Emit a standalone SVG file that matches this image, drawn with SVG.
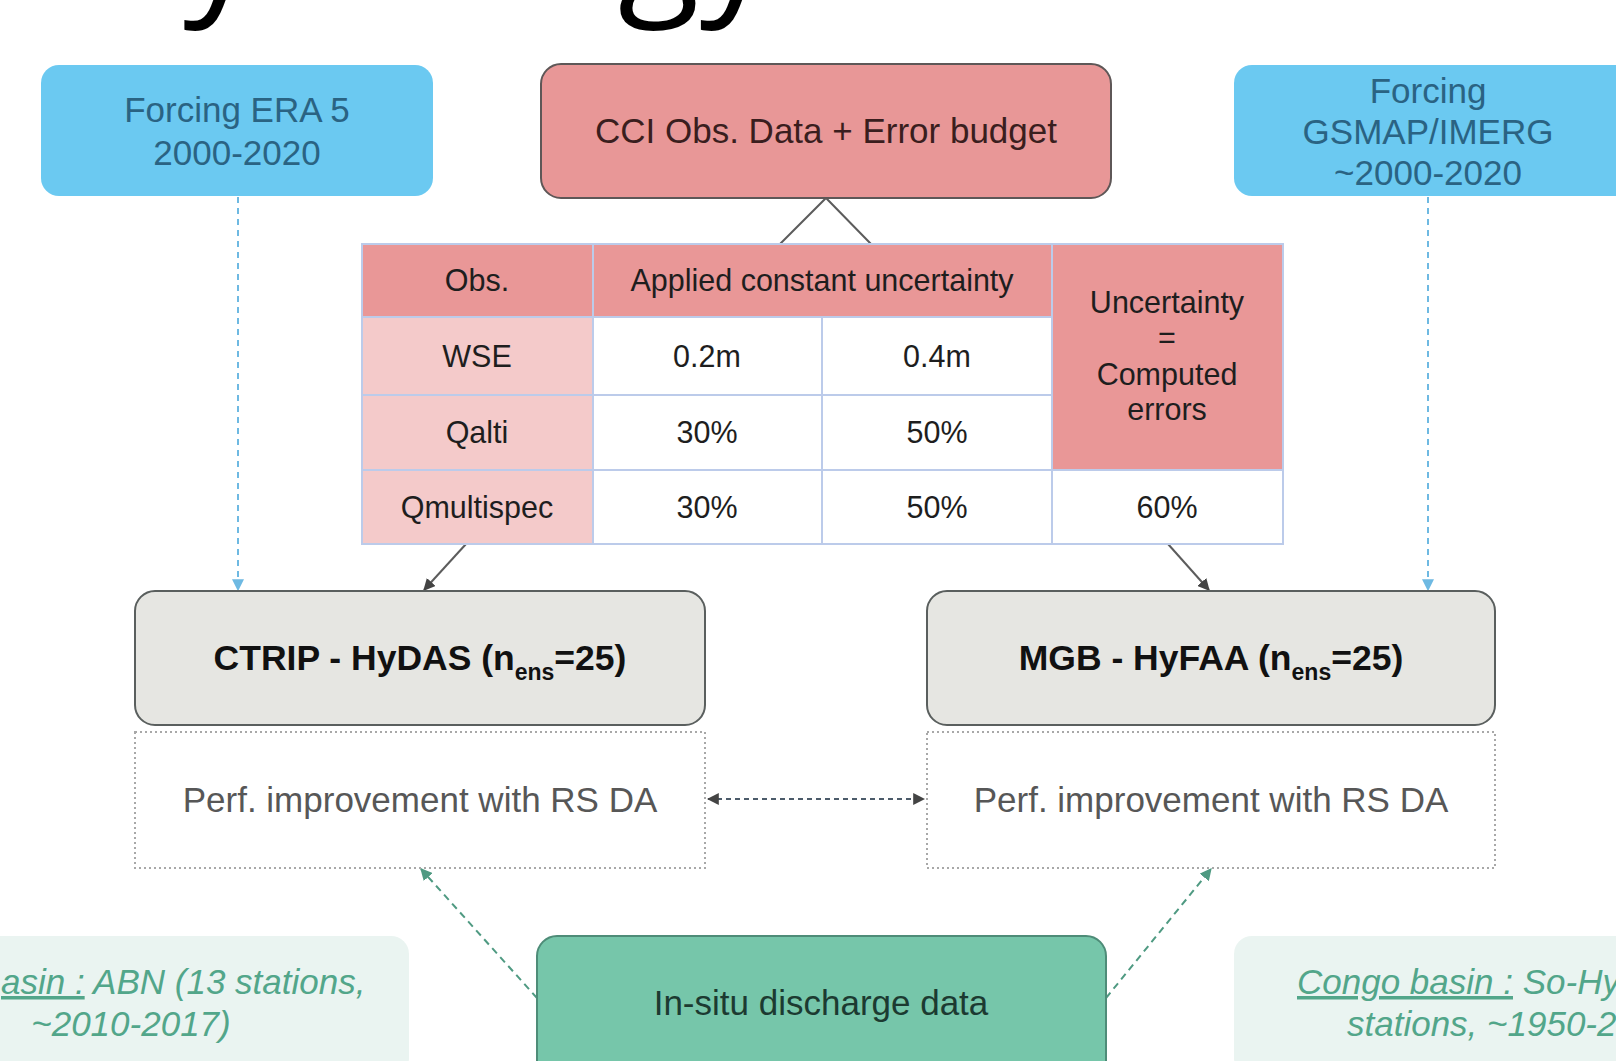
<svg xmlns="http://www.w3.org/2000/svg" width="1616" height="1061" viewBox="0 0 1616 1061">
  <defs>
    <style>
      text { font-family: "Liberation Sans", Arial, sans-serif; }
      .title { font-family: "Open Sans", "Noto Sans", sans-serif; font-size: 150px; fill: #000; }
      .forcing rect { fill: #6BC9F1; }
      .forcing text { font-size: 35px; fill: #2A6383; text-anchor: middle; }
      .cci rect { fill: #E89797; stroke: #5E5757; stroke-width: 2; }
      .cci text { font-size: 35px; fill: #3A1E1E; text-anchor: middle; }
      .cell-head { fill: #E99797; }
      .cell-obs { fill: #F4CACA; }
      .cell { fill: #FFFFFF; }
      .grid { stroke: #BCCBEA; stroke-width: 2; fill: none; }
      .tbl { font-size: 30.5px; fill: #1E1E1E; text-anchor: middle; }
      .model rect { fill: #E6E6E2; stroke: #5A5F5E; stroke-width: 2; }
      .model text { font-size: 35.5px; font-weight: bold; fill: #111; text-anchor: middle; }
      .perf rect { fill: #FFFFFF; stroke: #A8A8A8; stroke-width: 2; stroke-dasharray: 2 3; }
      .perf text { font-size: 35px; fill: #575757; text-anchor: middle; }
      .insitu rect { fill: #76C6AA; stroke: #4E8C78; stroke-width: 2; }
      .insitu text { font-size: 35px; fill: #1C3A31; text-anchor: middle; }
      .basin rect { fill: #EAF4F1; }
      .basin text { font-size: 35px; font-style: italic; fill: #52A68A; }
      .solid { stroke: #5C5C5C; stroke-width: 2; fill: none; }
      .blue-dash { stroke: #6EB9E2; stroke-width: 2; stroke-dasharray: 6 5; fill: none; }
      .grey-dash { stroke: #4C5B6A; stroke-width: 2; stroke-dasharray: 5 4; fill: none; }
      .green-dash { stroke: #4F9A82; stroke-width: 2; stroke-dasharray: 7 5; fill: none; }
    </style>
    <marker id="ah-dark" viewBox="0 0 10 10" refX="9" refY="5" markerWidth="6" markerHeight="6" orient="auto-start-reverse">
      <path d="M0,0 L10,5 L0,10 z" fill="#444"/>
    </marker>
    <marker id="ah-blue" viewBox="0 0 10 10" refX="9" refY="5" markerWidth="6" markerHeight="6" orient="auto-start-reverse">
      <path d="M0,0 L10,5 L0,10 z" fill="#6EB9E2"/>
    </marker>
    <marker id="ah-green" viewBox="0 0 10 10" refX="9" refY="5" markerWidth="6" markerHeight="6" orient="auto-start-reverse">
      <path d="M0,0 L10,5 L0,10 z" fill="#4F9A82"/>
    </marker>
  </defs>

  <rect width="1616" height="1061" fill="#FFFFFF"/>

  <!-- heading, mostly above the top edge: only descenders remain visible -->
  <g id="heading">
    <text class="title" x="183" y="-5">y</text>
    <text class="title" x="618" y="-5">gy</text>
  </g>

  <!-- connectors -->
  <g id="connectors">
    <path class="solid" d="M780,244 L826,198 L871,244"/>
    <line class="solid" x1="466" y1="544" x2="424" y2="590" marker-end="url(#ah-dark)"/>
    <line class="solid" x1="1168" y1="544" x2="1209" y2="590" marker-end="url(#ah-dark)"/>
    <line class="blue-dash" x1="238" y1="197" x2="238" y2="590" marker-end="url(#ah-blue)"/>
    <line class="blue-dash" x1="1428" y1="197" x2="1428" y2="590" marker-end="url(#ah-blue)"/>
    <line class="grey-dash" x1="708" y1="799" x2="924" y2="799" marker-start="url(#ah-dark)" marker-end="url(#ah-dark)"/>
    <line class="green-dash" x1="537" y1="998" x2="421" y2="869" marker-end="url(#ah-green)"/>
    <line class="green-dash" x1="1106" y1="998" x2="1211" y2="869" marker-end="url(#ah-green)"/>
  </g>

  <g id="forcing-era5" class="forcing">
    <rect x="41" y="65" width="392" height="131" rx="18"/>
    <text x="237" y="122">Forcing ERA 5</text>
    <text x="237" y="165">2000-2020</text>
  </g>

  <g id="cci-obs" class="cci">
    <rect x="541" y="64" width="570" height="134" rx="20"/>
    <text x="826" y="143">CCI Obs. Data + Error budget</text>
  </g>

  <g id="forcing-gsmap" class="forcing">
    <rect x="1234" y="65" width="400" height="131" rx="18"/>
    <text x="1428" y="103">Forcing</text>
    <text x="1428" y="144">GSMAP/IMERG</text>
    <text x="1428" y="185">~2000-2020</text>
  </g>

  <!-- uncertainty table -->
  <g id="uncertainty-table">
    <rect class="cell-head" x="362" y="244" width="231" height="73"/>
    <rect class="cell-head" x="593" y="244" width="459" height="73"/>
    <rect class="cell-head" x="1052" y="244" width="231" height="226"/>
    <rect class="cell-obs" x="362" y="317" width="231" height="227"/>
    <rect class="cell" x="593" y="317" width="459" height="227"/>
    <rect class="cell" x="1052" y="470" width="231" height="74"/>
    <g class="grid">
      <rect x="362" y="244" width="921" height="300"/>
      <line x1="593" y1="244" x2="593" y2="544"/>
      <line x1="822" y1="317" x2="822" y2="544"/>
      <line x1="1052" y1="244" x2="1052" y2="544"/>
      <line x1="362" y1="317" x2="1052" y2="317"/>
      <line x1="362" y1="395" x2="1052" y2="395"/>
      <line x1="362" y1="470" x2="1283" y2="470"/>
    </g>
    <text class="tbl" x="477" y="291">Obs.</text>
    <text class="tbl" x="822" y="291">Applied constant uncertainty</text>
    <text class="tbl" x="1167" y="313">Uncertainty</text>
    <text class="tbl" x="1167" y="348">=</text>
    <text class="tbl" x="1167" y="385">Computed</text>
    <text class="tbl" x="1167" y="420">errors</text>
    <text class="tbl" x="477" y="367">WSE</text>
    <text class="tbl" x="707" y="367">0.2m</text>
    <text class="tbl" x="937" y="367">0.4m</text>
    <text class="tbl" x="477" y="443">Qalti</text>
    <text class="tbl" x="707" y="443">30%</text>
    <text class="tbl" x="937" y="443">50%</text>
    <text class="tbl" x="477" y="518">Qmultispec</text>
    <text class="tbl" x="707" y="518">30%</text>
    <text class="tbl" x="937" y="518">50%</text>
    <text class="tbl" x="1167" y="518">60%</text>
  </g>

  <g id="ctrip-hydas" class="model">
    <rect x="135" y="591" width="570" height="134" rx="20"/>
    <text x="420" y="670">CTRIP - HyDAS (n<tspan font-size="23" dy="10">ens</tspan><tspan dy="-10">=25)</tspan></text>
  </g>

  <g id="mgb-hyfaa" class="model">
    <rect x="927" y="591" width="568" height="134" rx="20"/>
    <text x="1211" y="670">MGB - HyFAA (n<tspan font-size="23" dy="10">ens</tspan><tspan dy="-10">=25)</tspan></text>
  </g>

  <g id="perf-ctrip" class="perf">
    <rect x="135" y="732" width="570" height="136"/>
    <text x="420" y="812">Perf. improvement with RS DA</text>
  </g>

  <g id="perf-mgb" class="perf">
    <rect x="927" y="732" width="568" height="136"/>
    <text x="1211" y="812">Perf. improvement with RS DA</text>
  </g>

  <g id="amazon-stations" class="basin">
    <rect x="-30" y="936" width="439" height="140" rx="18"/>
    <text x="1" y="994"><tspan text-decoration="underline">asin :</tspan> ABN (13 stations,</text>
    <text x="131" y="1036" text-anchor="middle">~2010-2017)</text>
  </g>

  <g id="insitu-discharge" class="insitu">
    <rect x="537" y="936" width="569" height="150" rx="20"/>
    <text x="821" y="1015">In-situ discharge data</text>
  </g>

  <g id="congo-stations" class="basin">
    <rect x="1234" y="936" width="420" height="140" rx="18"/>
    <text x="1297" y="994"><tspan text-decoration="underline">Congo basin :</tspan> So-Hy</text>
    <text x="1347" y="1036">stations, ~1950-2</text>
  </g>
</svg>
